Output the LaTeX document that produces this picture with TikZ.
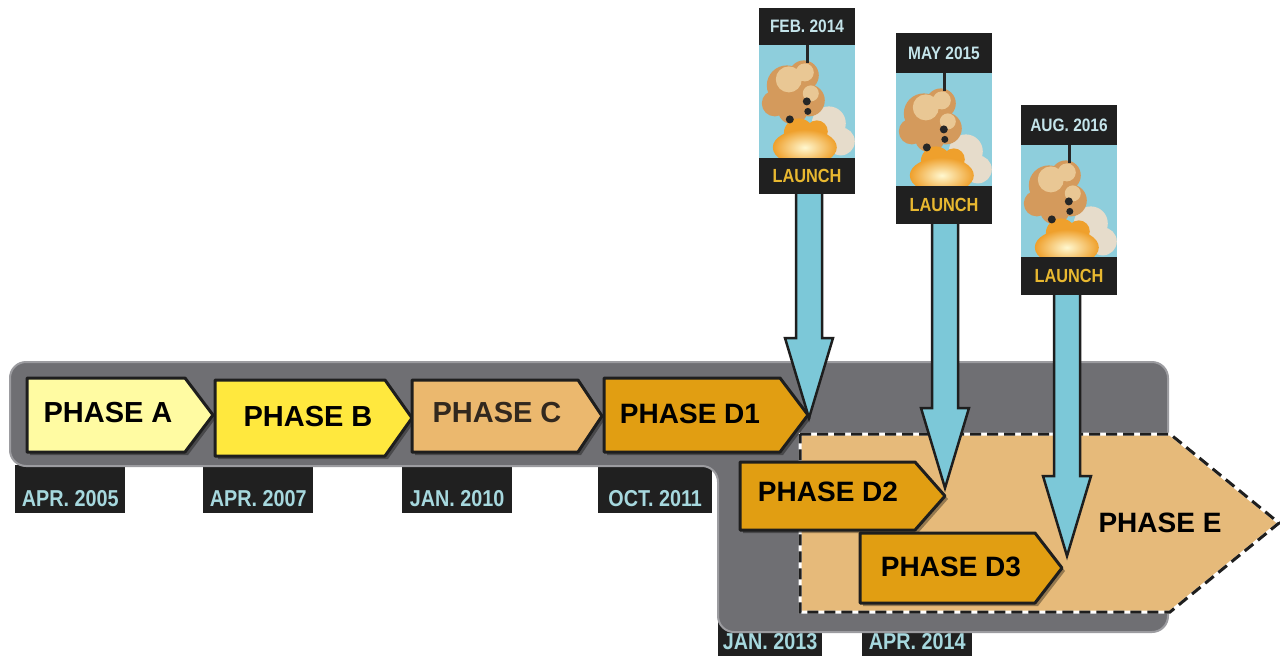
\documentclass[tikz,border=0pt]{standalone}
\usepackage{fontspec}
\setmainfont{Liberation Sans}
\newfontfamily\condfont[FakeStretch=0.86]{Liberation Sans}
\usetikzlibrary{calc}
\definecolor{barGray}{HTML}{6F6F73}
\definecolor{barEdge}{HTML}{9C9CA0}
\definecolor{dateBlack}{HTML}{202020}
\definecolor{dateBlue}{HTML}{A6D8DE}
\definecolor{phA}{HTML}{FFFBA2}
\definecolor{phB}{HTML}{FFE83E}
\definecolor{phC}{HTML}{EBB86E}
\definecolor{phD}{HTML}{E19E12}
\definecolor{phE}{HTML}{E6BA7A}
\definecolor{arrowBlue}{HTML}{7CC8D8}
\definecolor{outlineDark}{HTML}{1E1E1E}
\definecolor{skyBlue}{HTML}{8ECEDC}
\definecolor{gold}{HTML}{E8B830}
\definecolor{headText}{HTML}{C4E4EA}
\definecolor{smokeA}{HTML}{E6DCCB}
\definecolor{cloudBase}{HTML}{D49A5C}
\definecolor{cloudLight}{HTML}{EDCF9E}
\definecolor{fireIn}{HTML}{FFF8D0}
\definecolor{fireOut}{HTML}{EFA02C}
\definecolor{rocketDark}{HTML}{262626}
\newcommand{\launchart}{%
  \clip (0,0) rectangle (96,112);
  \fill[skyBlue] (0,0) rectangle (96,112);
  \fill[smokeA] (70,78) circle (17) (58,94) circle (15) (82,96) circle (14);
  \fill[cloudBase] (28,40) circle (20) (45,30) circle (15) (16,58) circle (13) (50,55) circle (16) (34,64) circle (15);
  \fill[cloudLight, opacity=0.85] (30,34) circle (13) (46,27) circle (9) (52,48) circle (8);
  \fill[fireOut] (40,88) circle (15) (58,86) circle (11);
  \shade[inner color=fireIn, outer color=fireOut] (46,102) ellipse (32 and 18);
  \draw[line width=3pt, rocketDark] (49,0) -- (49,18);
  \fill[rocketDark] (48,56) circle (4) (49,66) circle (3.5) (31,74) circle (4);
}
\tikzset{
  phaseshape/.style={draw=outlineDark, line width=3pt, line join=round},
  shadowshape/.style={fill=black, opacity=0.35},
  phasetext/.style={font=\bfseries\fontsize{29}{30}\selectfont, text=black, inner sep=0pt},
  datebox/.style={fill=dateBlack, text=dateBlue, font=\condfont\bfseries\fontsize{23}{24}\selectfont, inner xsep=0pt, inner ysep=3pt, text depth=4pt, anchor=north west},
  headbox/.style={fill=dateBlack, text=headText, font=\condfont\bfseries\fontsize{18}{19}\selectfont, minimum width=96pt, inner sep=0pt, anchor=north},
  footbox/.style={fill=dateBlack, text=gold, font=\condfont\bfseries\fontsize{19}{20}\selectfont, minimum width=96pt, minimum height=36pt, inner sep=0pt, anchor=north},
  photobox/.style={fill=skyBlue, minimum width=96pt, minimum height=112pt, inner sep=0pt, anchor=north},
  fatarrow/.style={fill=arrowBlue, draw=outlineDark, line width=2.5pt, line join=miter}
}
\begin{document}
\begin{tikzpicture}[x=1pt,y=-1pt]
\useasboundingbox (0,0) rectangle (1280,656);
\fill[white] (0,0) rectangle (1280,656);

% date boxes (under the bar)
\node[datebox, minimum width=110pt, text height=38pt] (dA) at (15,465) {APR. 2005};
\node[datebox, minimum width=110pt, text height=38pt] (dB) at (203,465) {APR. 2007};
\node[datebox, minimum width=110pt, text height=38pt] (dC) at (402,465) {JAN. 2010};
\node[datebox, minimum width=114pt, text height=38pt] (dD1) at (598,465) {OCT. 2011};
\node[datebox, minimum width=104pt, text height=25pt, inner ysep=2.5pt] (dD2) at (718,622) {JAN. 2013};
\node[datebox, minimum width=110pt, text height=25pt, inner ysep=2.5pt] (dD3) at (862,622) {APR. 2014};

% gray bar
\draw[fill=barGray, draw=barEdge, line width=2pt, rounded corners=16pt]
  (10,466) -- (10,362) -- (1168,362) -- (1168,632) -- (718,632) -- (718,466) -- cycle;

% phase E
\path[fill=phE] (800,434) -- (1170,434) -- (1279,523) -- (1170,612) -- (800,612) -- cycle;
\draw[white, line width=3pt] (800,434) -- (1170,434) -- (1279,523) -- (1170,612) -- (800,612) -- cycle;
\draw[outlineDark, line width=3pt, dash pattern=on 11pt off 6pt] (800,434) -- (1170,434) -- (1279,523) -- (1170,612) -- (800,612) -- cycle;
\node[phasetext, font=\bfseries\fontsize{28}{30}\selectfont] (pE) at (1160,523) {PHASE E};

% phases
\fill[shadowshape] (30,381) -- (188,381) -- (216,418) -- (188,455) -- (30,455) -- cycle;
\draw[phaseshape, fill=phA] (27,378) -- (185,378) -- (213,415) -- (185,452) -- (27,452) -- cycle;
\node[phasetext] (pA) at (108,413) {PHASE A};

\fill[shadowshape] (218,383) -- (388,383) -- (415,421) -- (388,459) -- (218,459) -- cycle;
\draw[phaseshape, fill=phB] (215,380) -- (385,380) -- (412,418) -- (385,456) -- (215,456) -- cycle;
\node[phasetext] (pB) at (308,417) {PHASE B};

\fill[shadowshape] (415,383) -- (581,383) -- (605,419) -- (581,455) -- (415,455) -- cycle;
\draw[phaseshape, fill=phC] (412,380) -- (578,380) -- (602,416) -- (578,452) -- (412,452) -- cycle;
\node[phasetext, text={rgb,255:red,50;green,40;blue,30}] (pC) at (497,413) {PHASE C};

\fill[shadowshape] (607,381) -- (783,381) -- (811,418) -- (783,455) -- (607,455) -- cycle;
\draw[phaseshape, fill=phD] (604,378) -- (780,378) -- (808,415) -- (780,452) -- (604,452) -- cycle;
\node[phasetext, font=\bfseries\fontsize{28}{30}\selectfont] (pD1) at (690,414) {PHASE D1};

\fill[shadowshape] (743,465) -- (918,465) -- (948,499) -- (918,533) -- (743,533) -- cycle;
\draw[phaseshape, fill=phD] (740,462) -- (915,462) -- (945,496) -- (915,530) -- (740,530) -- cycle;
\node[phasetext, font=\bfseries\fontsize{28}{30}\selectfont] (pD2) at (828,492) {PHASE D2};

\fill[shadowshape] (863,536) -- (1038,536) -- (1065,571) -- (1038,606) -- (863,606) -- cycle;
\draw[phaseshape, fill=phD] (860,533) -- (1035,533) -- (1062,568) -- (1035,603) -- (860,603) -- cycle;
\node[phasetext, font=\bfseries\fontsize{28}{30}\selectfont] (pD3) at (951,567) {PHASE D3};

% launch posters
\node[headbox, minimum height=37pt] (h1) at (807,8) {FEB. 2014};
\node[photobox] (ph1) at (h1.south) {};
\begin{scope}[shift={(ph1.north west)}]\launchart\end{scope}
\node[footbox] (l1) at (ph1.south) {LAUNCH};

\node[headbox, minimum height=40pt] (h2) at (944,33) {MAY 2015};
\node[photobox] (ph2) at (h2.south) {};
\begin{scope}[shift={(ph2.north west)}]\launchart\end{scope}
\node[footbox, minimum height=38pt] (l2) at (ph2.south) {LAUNCH};

\node[headbox, minimum height=40pt] (h3) at (1069,105) {AUG. 2016};
\node[photobox, minimum height=111pt] (ph3) at (h3.south) {};
\begin{scope}[shift={(ph3.north west)}]\launchart\end{scope}
\node[footbox, minimum height=38pt] (l3) at (ph3.south) {LAUNCH};

% arrow tips
\coordinate (t1) at (809,418);
\coordinate (t2) at (945,488);
\coordinate (t3) at (1067,556);

\foreach \l/\t in {l1/t1, l2/t2, l3/t3}{
  \draw[fatarrow] let \p1=(\t), \p2=(\l.south) in
    (\x1-13pt,\y2) -- (\x1-13pt,\y1+80pt) -- (\x1-24pt,\y1+80pt) -- (\p1)
    -- (\x1+24pt,\y1+80pt) -- (\x1+13pt,\y1+80pt) -- (\x1+13pt,\y2) ;
}
\end{tikzpicture}
\end{document}
